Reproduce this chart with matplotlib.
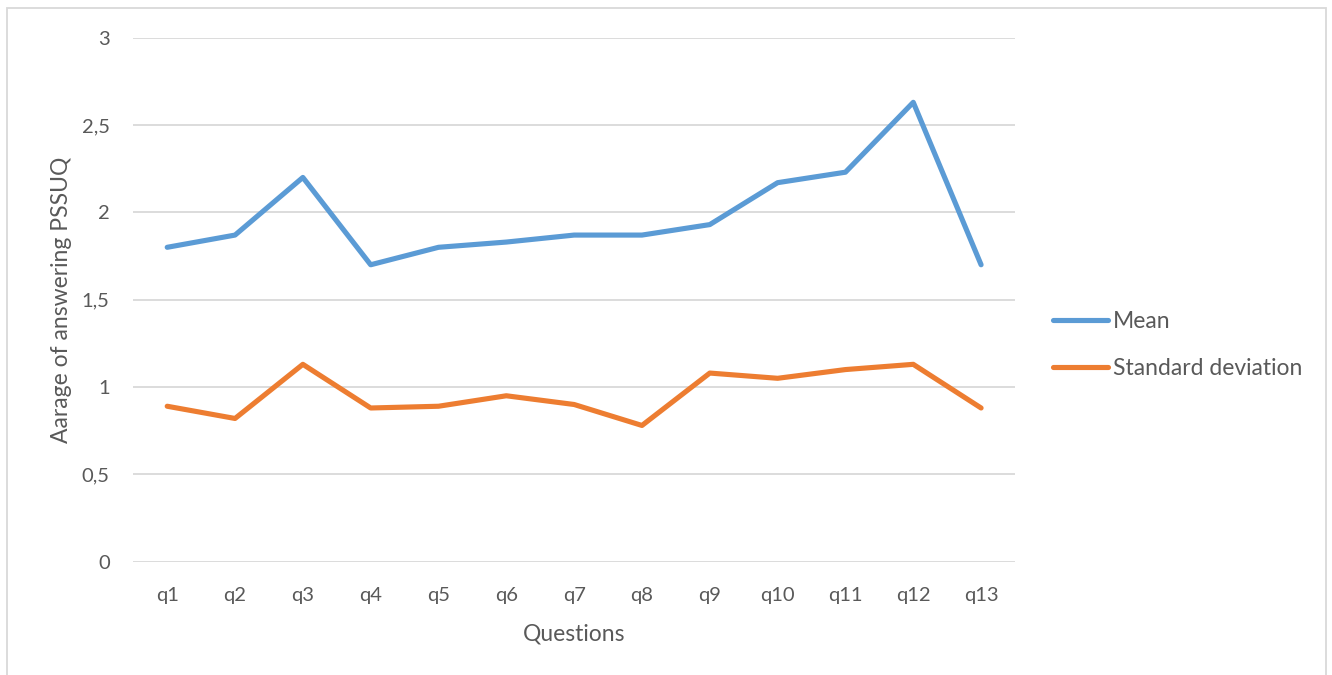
import matplotlib
matplotlib.use("Agg")
import matplotlib.pyplot as plt
from matplotlib.patches import Rectangle

# PSSUQ answers per question
questions = ['q1', 'q2', 'q3', 'q4', 'q5', 'q6', 'q7', 'q8', 'q9', 'q10', 'q11', 'q12', 'q13']
mean_vals = [1.80, 1.87, 2.20, 1.70, 1.80, 1.83, 1.87, 1.87, 1.93, 2.17, 2.23, 2.63, 1.70]
std_vals = [0.89, 0.82, 1.13, 0.88, 0.89, 0.95, 0.90, 0.78, 1.08, 1.05, 1.10, 1.13, 0.88]
y_ticks = [0, 0.5, 1, 1.5, 2, 2.5, 3]
y_ticklabels = ['0', '0,5', '1', '1,5', '2', '2,5', '3']

plt.rcParams['font.family'] = ['Lato', 'DejaVu Sans']
text_col = '#595959'
grid_col = '#d9d9d9'

W, H = 1332, 675
fig = plt.figure(figsize=(W / 100, H / 100), dpi=100)
ax = fig.add_axes([133.3 / W, 1 - 561.7 / H, (1015 - 133.3) / W, (561.7 - 37.7) / H])

x = list(range(len(questions)))
ax.plot(x, mean_vals, color='#5b9bd5', lw=3.7, solid_capstyle='round',
        solid_joinstyle='round', label='Mean', zorder=3)
ax.plot(x, std_vals, color='#ed7d31', lw=3.7, solid_capstyle='round',
        solid_joinstyle='round', label='Standard deviation', zorder=3)

ax.set_xlim(-0.5, len(questions) - 0.5)
ax.set_ylim(0, 3)
ax.set_xticks(x)
ax.set_xticklabels(questions)
ax.set_yticks(y_ticks)
ax.set_yticklabels(y_ticklabels)
ax.tick_params(length=0, labelsize=14.5, labelcolor=text_col)
ax.tick_params(axis='y', pad=17)
ax.tick_params(axis='x', pad=18)
for s in ax.spines.values():
    s.set_visible(False)
ax.yaxis.grid(True, color=grid_col, lw=1.3)
ax.set_axisbelow(True)

ax.set_xlabel('Questions', fontsize=16.5, color=text_col, labelpad=14)
ax.set_ylabel('Aarage of answering PSSUQ', fontsize=16.5, color=text_col, labelpad=7)

leg = ax.legend(loc='center left', bbox_to_anchor=(1053 / W, 1 - 345 / H),
                bbox_transform=fig.transFigure, frameon=False, fontsize=16.5,
                handlelength=2.4, handletextpad=0.2, labelspacing=1.1,
                borderaxespad=0, borderpad=0)
for t in leg.get_texts():
    t.set_color(text_col)

# outer chart border
fig.patches.append(Rectangle((7 / W, -0.05), (1326 - 7) / W, 1.05 - 8 / H,
                             transform=fig.transFigure, fill=False,
                             edgecolor=grid_col, lw=1.3))

fig.savefig('out.png', dpi=100, facecolor='white')
